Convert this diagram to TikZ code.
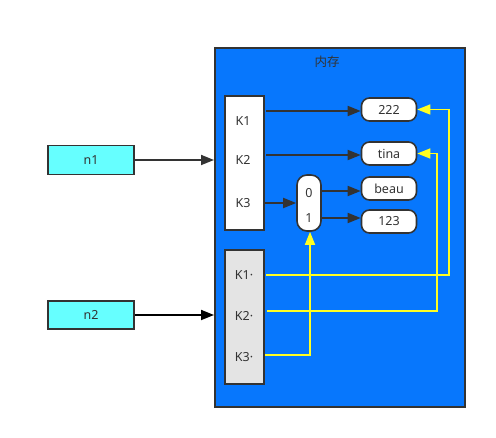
\documentclass[tikz,border=0pt]{standalone}
\usepackage{fontspec}
\setmainfont{Noto Sans}
\newfontfamily\cjk{Noto Sans CJK SC}
\usetikzlibrary{arrows.meta}
\definecolor{memblue}{HTML}{0777FD}
\definecolor{cyanbox}{HTML}{66FFFF}
\definecolor{grayfill}{HTML}{E4E4E4}
\definecolor{dark}{HTML}{333333}
\definecolor{yel}{HTML}{FFFF22}
\tikzset{
  box/.style={draw=dark, line width=1.6pt, inner sep=0pt},
  val/.style={box, fill=white, rounded corners=8pt, minimum width=55pt, minimum height=23pt, font=\fontsize{12.5}{14}\selectfont, text=dark},
  lbl/.style={font=\fontsize{12.5}{14}\selectfont, text=dark, inner sep=0pt},
  arr/.style={draw=dark, line width=1.8pt, -{Triangle[length=13pt,width=10pt]}},
  blk/.style={draw=black, line width=1.8pt, -{Triangle[length=13pt,width=10pt]}},
  yarr/.style={draw=yel, line width=1.6pt, -{Triangle[length=13pt,width=10pt]}},
}
\begin{document}
\begin{tikzpicture}[x=1pt,y=-1pt]
\useasboundingbox (0,0) rectangle (496,438);
% memory
\node[box, fill=memblue, minimum width=250pt, minimum height=359pt, anchor=north west] (mem) at (214,47) {};
\node[lbl, font=\cjk\fontsize{12.5}{14}\selectfont] (title) at (327,62) {内存};
% handles
\node[box, fill=cyanbox, minimum width=86pt, minimum height=29pt, lbl] (n1) at (91,160) {n1};
\node[box, fill=cyanbox, minimum width=86pt, minimum height=28pt, lbl] (n2) at (91,315) {n2};
% boxes
\node[box, fill=white, minimum width=39pt, minimum height=134pt, anchor=north west] (b1) at (224,95) {};
\node[box, fill=grayfill, minimum width=39pt, minimum height=134pt, anchor=north west] (b2) at (224,249) {};
\node[lbl] (k11) at (243,121) {K1};
\node[lbl] (k12) at (243,160) {K2};
\node[lbl] (k13) at (243,203) {K3};
\node[lbl] (k21) at (244,275) {K1·};
\node[lbl] (k22) at (244,316) {K2·};
\node[lbl] (k23) at (244,357) {K3·};
% capsule
\node[box, fill=white, rounded corners=10pt, minimum width=24pt, minimum height=56pt] (cap) at (309,203) {};
\node[lbl] (c0) at (309,193) {0};
\node[lbl] (c1) at (309,218) {1};
% values
\node[val] (v222) at (389,109.5) {222};
\node[val] (vtina) at (389,153.5) {tina};
\node[val] (vbeau) at (389,188.5) {beau};
\node[val] (v123) at (389,221.5) {123};
% arrows
\draw[arr] (n1.east) -- (n1.east -| mem.west);
\draw[blk] (n2.east) -- (n2.east -| mem.west);
\draw[arr] (266,111) coordinate (s1) -- (s1 -| v222.west);
\draw[arr] (266,155) coordinate (s2) -- (s2 -| vtina.west);
\draw[arr] (265,203) coordinate (s3) -- (s3 -| cap.west);
\draw[arr] (c0.east -| cap.east) ++(0,-2) coordinate (s4) -- (s4 -| vbeau.west);
\draw[arr] (c1.east -| cap.east) coordinate (s5) -- (s5 -| v123.west);
% yellow pointers
\coordinate (y1) at (266,275);
\coordinate (y2) at (267,311);
\coordinate (y3) at (265,355);
\draw[yarr] (y1) -- (449,275) -- (449,109.5) -- (v222.east);
\draw[yarr] (y2) -- (437,311) -- (437,153.5) -- (vtina.east);
\draw[yarr] (y3) -- (310,355) -- (cap.south -| 310,0);
\end{tikzpicture}
\end{document}
